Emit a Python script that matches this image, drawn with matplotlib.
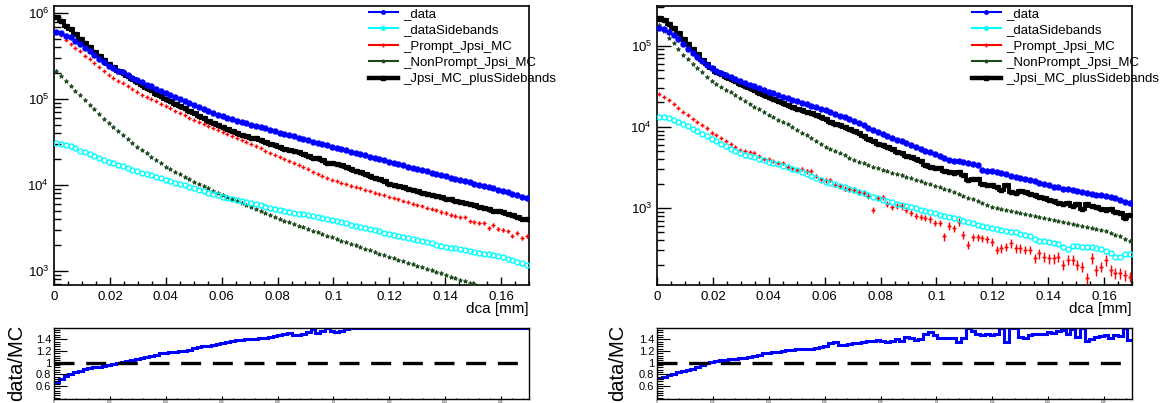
import numpy as np
import matplotlib
matplotlib.use("Agg")
import matplotlib.pyplot as plt
from matplotlib.lines import Line2D
from matplotlib.ticker import MultipleLocator, FixedLocator, LogLocator, NullFormatter, FuncFormatter

plt.rcParams["font.family"] = ["Liberation Sans", "DejaVu Sans"]

# 100 bins of dca from 0 to 0.17 mm
n_bins = 100
x_max = 0.17
edges = np.linspace(0, x_max, n_bins + 1)
centers = 0.5 * (edges[:-1] + edges[1:])

# values, stored as log10(counts)
left_data = [5.78, 5.77, 5.74, 5.72, 5.68, 5.64, 5.60, 5.56, 5.51, 5.47,
             5.43, 5.39, 5.36, 5.33, 5.31, 5.28, 5.25, 5.22, 5.20, 5.17,
             5.15, 5.12, 5.10, 5.07, 5.05, 5.02, 5.00, 4.98, 4.95, 4.93,
             4.91, 4.89, 4.86, 4.84, 4.82, 4.80, 4.78, 4.77, 4.75, 4.73,
             4.72, 4.70, 4.69, 4.67, 4.66, 4.64, 4.63, 4.61, 4.595, 4.58,
             4.565, 4.55, 4.535, 4.52, 4.505, 4.49, 4.475, 4.46, 4.445, 4.43,
             4.416, 4.401, 4.387, 4.372, 4.358, 4.343, 4.328, 4.314, 4.299, 4.285,
             4.27, 4.256, 4.242, 4.228, 4.213, 4.199, 4.185, 4.171, 4.157, 4.143,
             4.128, 4.114, 4.10, 4.086, 4.072, 4.058, 4.043, 4.029, 4.015, 4.001,
             3.987, 3.973, 3.958, 3.944, 3.93, 3.913, 3.896, 3.879, 3.862, 3.845]
left_sidebands = [4.485, 4.478, 4.466, 4.45, 4.43, 4.40, 4.378, 4.357, 4.335, 4.313,
                  4.292, 4.27, 4.252, 4.233, 4.215, 4.197, 4.178, 4.16, 4.143, 4.127,
                  4.11, 4.093, 4.077, 4.06, 4.043, 4.027, 4.01, 3.993, 3.977, 3.96,
                  3.943, 3.927, 3.91, 3.893, 3.877, 3.86, 3.848, 3.835, 3.823, 3.81,
                  3.798, 3.785, 3.773, 3.76, 3.748, 3.735, 3.723, 3.71, 3.699, 3.688,
                  3.677, 3.666, 3.655, 3.645, 3.634, 3.623, 3.612, 3.601, 3.59, 3.577,
                  3.563, 3.55, 3.537, 3.523, 3.51, 3.497, 3.483, 3.47, 3.457, 3.443,
                  3.43, 3.418, 3.405, 3.393, 3.38, 3.368, 3.355, 3.343, 3.33, 3.318,
                  3.305, 3.293, 3.28, 3.27, 3.26, 3.25, 3.24, 3.23, 3.22, 3.21,
                  3.20, 3.19, 3.18, 3.17, 3.16, 3.142, 3.124, 3.106, 3.088, 3.07]
left_prompt = [5.78, 5.75, 5.69, 5.645, 5.60, 5.555, 5.507, 5.462, 5.417, 5.372,
               5.327, 5.283, 5.25, 5.216, 5.182, 5.148, 5.114, 5.08, 5.053, 5.027,
               5.00, 4.973, 4.947, 4.92, 4.892, 4.864, 4.837, 4.809, 4.781, 4.753,
               4.73, 4.708, 4.686, 4.663, 4.64, 4.618, 4.594, 4.57, 4.546, 4.522,
               4.498, 4.474, 4.45, 4.425, 4.40, 4.376, 4.352, 4.327, 4.303, 4.278,
               4.254, 4.229, 4.205, 4.18, 4.156, 4.131, 4.106, 4.082, 4.057, 4.041,
               4.024, 4.008, 3.992, 3.976, 3.96, 3.943, 3.927, 3.911, 3.895, 3.878,
               3.862, 3.846, 3.83, 3.814, 3.798, 3.782, 3.766, 3.75, 3.734, 3.718,
               3.702, 3.686, 3.669, 3.653, 3.637, 3.62, 3.62, 3.575, 3.572, 3.555,
               3.56, 3.50, 3.53, 3.49, 3.474, 3.457, 3.41, 3.44, 3.38, 3.40]
left_nonprompt = [5.327, 5.27, 5.215, 5.155, 5.10, 5.045, 4.99, 4.935, 4.88, 4.825,
                  4.77, 4.72, 4.675, 4.628, 4.58, 4.535, 4.49, 4.445, 4.405, 4.367,
                  4.328, 4.29, 4.25, 4.212, 4.182, 4.153, 4.124, 4.095, 4.066, 4.037,
                  4.011, 3.985, 3.959, 3.933, 3.907, 3.882, 3.859, 3.836, 3.814, 3.791,
                  3.768, 3.746, 3.722, 3.697, 3.673, 3.648, 3.624, 3.60, 3.581, 3.562,
                  3.543, 3.524, 3.505, 3.485, 3.466, 3.447, 3.428, 3.408, 3.389, 3.37,
                  3.351, 3.332, 3.314, 3.295, 3.276, 3.257, 3.238, 3.22, 3.20, 3.182,
                  3.163, 3.145, 3.128, 3.11, 3.092, 3.074, 3.057, 3.039, 3.021, 3.003,
                  2.985, 2.968, 2.95, 2.932, 2.913, 2.895, 2.877, 2.858, 2.84, 2.823,
                  2.807, 2.79, 2.773, 2.757, 2.74, 2.722, 2.704, 2.686, 2.668, 2.65]
left_total = [5.951, 5.913, 5.854, 5.812, 5.756, 5.706, 5.653, 5.603, 5.546, 5.499,
              5.452, 5.405, 5.369, 5.33, 5.306, 5.269, 5.233, 5.195, 5.169, 5.131,
              5.103, 5.065, 5.036, 5.00, 4.978, 4.944, 4.921, 4.899, 4.864, 4.835,
              4.808, 4.783, 4.748, 4.723, 4.698, 4.673, 4.646, 4.632, 4.609, 4.587,
              4.574, 4.552, 4.541, 4.518, 4.505, 4.48, 4.466, 4.443, 4.422, 4.401,
              4.395, 4.383, 4.362, 4.335, 4.309, 4.311, 4.285, 4.259, 4.255, 4.245,
              4.226, 4.205, 4.185, 4.165, 4.145, 4.125, 4.105, 4.085, 4.065, 4.04,
              4.015, 4.00, 3.985, 3.97, 3.955, 3.94, 3.925, 3.91, 3.895, 3.88,
              3.87, 3.855, 3.84, 3.83, 3.815, 3.80, 3.79, 3.775, 3.76, 3.745,
              3.73, 3.715, 3.70, 3.69, 3.68, 3.66, 3.645, 3.63, 3.605, 3.60]

right_data = [5.214, 5.20, 5.17, 5.13, 5.08, 5.02, 4.96, 4.91, 4.86, 4.81,
              4.765, 4.725, 4.69, 4.665, 4.64, 4.615, 4.59, 4.565, 4.543, 4.521,
              4.499, 4.477, 4.455, 4.433, 4.413, 4.393, 4.373, 4.353, 4.333, 4.313,
              4.295, 4.277, 4.258, 4.24, 4.222, 4.203, 4.182, 4.16, 4.138, 4.116,
              4.094, 4.072, 4.045, 4.018, 3.991, 3.964, 3.937, 3.91, 3.888, 3.865,
              3.843, 3.82, 3.797, 3.775, 3.752, 3.73, 3.707, 3.685, 3.66, 3.64,
              3.615, 3.595, 3.585, 3.575, 3.565, 3.555, 3.545, 3.535, 3.47, 3.462,
              3.455, 3.44, 3.43, 3.415, 3.40, 3.385, 3.37, 3.355, 3.34, 3.33,
              3.31, 3.295, 3.28, 3.265, 3.255, 3.24, 3.23, 3.22, 3.21, 3.195,
              3.185, 3.175, 3.165, 3.155, 3.145, 3.14, 3.125, 3.10, 3.08, 3.06]
right_sidebands = [4.126, 4.12, 4.105, 4.085, 4.06, 4.035, 4.005, 3.975, 3.945, 3.915,
                   3.885, 3.85, 3.82, 3.79, 3.76, 3.73, 3.70, 3.675, 3.658, 3.641,
                   3.623, 3.606, 3.589, 3.571, 3.554, 3.537, 3.52, 3.503, 3.486, 3.469,
                   3.445, 3.42, 3.396, 3.372, 3.348, 3.325, 3.308, 3.291, 3.274, 3.257,
                   3.24, 3.223, 3.202, 3.182, 3.161, 3.141, 3.12, 3.10, 3.085, 3.07,
                   3.055, 3.04, 3.025, 3.011, 2.996, 2.981, 2.966, 2.951, 2.936, 2.92,
                   2.905, 2.89, 2.874, 2.859, 2.844, 2.828, 2.813, 2.797, 2.782, 2.767,
                   2.751, 2.741, 2.731, 2.72, 2.71, 2.70, 2.68, 2.665, 2.65, 2.62,
                   2.60, 2.59, 2.58, 2.575, 2.56, 2.52, 2.50, 2.53, 2.53, 2.525,
                   2.525, 2.52, 2.51, 2.49, 2.475, 2.44, 2.40, 2.395, 2.43, 2.435]
right_prompt = [4.40, 4.37, 4.33, 4.28, 4.23, 4.18, 4.14, 4.10, 4.06, 4.02,
                3.98, 3.93, 3.90, 3.86, 3.83, 3.79, 3.75, 3.72, 3.70, 3.69,
                3.68, 3.64, 3.61, 3.60, 3.58, 3.56, 3.55, 3.51, 3.49, 3.47,
                3.48, 3.45, 3.45, 3.40, 3.36, 3.34, 3.35, 3.28, 3.27, 3.24,
                3.23, 3.22, 3.20, 3.19, 3.15, 2.98, 3.12, 3.13, 3.05, 3.01,
                3.03, 3.02, 2.98, 2.94, 2.90, 2.89, 2.88, 2.86, 2.82, 2.82,
                2.65, 2.78, 2.75, 2.833, 2.669, 2.545, 2.64, 2.64, 2.628, 2.616,
                2.586, 2.484, 2.505, 2.525, 2.566, 2.505, 2.505, 2.484, 2.484, 2.382,
                2.443, 2.402, 2.382, 2.382, 2.402, 2.299, 2.361, 2.361, 2.299, 2.278,
                2.135, 2.382, 2.238, 2.278, 2.361, 2.238, 2.197, 2.197, 2.176, 2.155]
right_nonprompt = [5.255, 5.18, 5.10, 5.03, 4.96, 4.89, 4.83, 4.78, 4.72, 4.67,
                   4.62, 4.57, 4.53, 4.495, 4.46, 4.425, 4.39, 4.355, 4.32, 4.285,
                   4.25, 4.215, 4.18, 4.147, 4.118, 4.089, 4.06, 4.03, 3.997, 3.965,
                   3.93, 3.895, 3.86, 3.825, 3.79, 3.757, 3.73, 3.70, 3.675, 3.648,
                   3.62, 3.594, 3.573, 3.553, 3.532, 3.511, 3.49, 3.469, 3.452, 3.435,
                   3.418, 3.401, 3.384, 3.367, 3.349, 3.331, 3.313, 3.295, 3.277, 3.26,
                   3.238, 3.216, 3.194, 3.172, 3.15, 3.128, 3.106, 3.084, 3.062, 3.04,
                   3.018, 3.005, 2.992, 2.979, 2.966, 2.953, 2.94, 2.926, 2.913, 2.90,
                   2.887, 2.874, 2.861, 2.849, 2.837, 2.825, 2.813, 2.80, 2.787, 2.775,
                   2.762, 2.75, 2.737, 2.725, 2.712, 2.69, 2.67, 2.65, 2.62, 2.60]
right_total = [5.345, 5.319, 5.272, 5.222, 5.156, 5.086, 5.016, 4.956, 4.892, 4.828,
               4.769, 4.721, 4.677, 4.648, 4.619, 4.59, 4.561, 4.532, 4.506, 4.48,
               4.45, 4.42, 4.391, 4.365, 4.341, 4.317, 4.292, 4.27, 4.247, 4.223,
               4.205, 4.184, 4.165, 4.143, 4.118, 4.092, 4.058, 4.03, 4.024, 3.999,
               3.973, 3.948, 3.921, 3.888, 3.854, 3.824, 3.794, 3.773, 3.754, 3.725,
               3.694, 3.68, 3.636, 3.623, 3.609, 3.584, 3.531, 3.50, 3.493, 3.488,
               3.46, 3.443, 3.43, 3.441, 3.41, 3.351, 3.355, 3.359, 3.30, 3.289,
               3.288, 3.264, 3.226, 3.281, 3.196, 3.181, 3.209, 3.203, 3.173, 3.157,
               3.134, 3.119, 3.095, 3.086, 3.065, 3.047, 3.057, 3.024, 3.049, 2.994,
               3.048, 3.029, 3.007, 2.991, 2.978, 2.988, 2.955, 2.936, 2.879, 2.917]

# relative error bars of the MC points
left_prompt_err = [0.005] * 20 + [0.01] * 20 + [0.015] * 20 + [0.03] * 20 + [0.05] * 20
left_nonprompt_err = [0.01] * 50 + [0.03] * 50
right_prompt_err = ([0.02] * 10 + [0.03] * 10 + [0.04] * 10 + [0.06] * 10 + [0.08] * 10
                    + [0.09] * 10 + [0.11] * 10 + [0.12] * 10 + [0.14] * 10 + [0.15] * 10)
right_nonprompt_err = [0.01] * 50 + [0.03] * 50

labels = ["_data", "_dataSidebands", "_Prompt_Jpsi_MC", "_NonPrompt_Jpsi_MC",
          "_Jpsi_MC_plusSidebands"]
c_data = "#0000ff"
c_side = "#00ffff"
c_prompt = "#ff0000"
c_nonprompt = "#1d4a1d"

W, H = 1166, 403
fig = plt.figure(figsize=(W / 100, H / 100), dpi=100)


def px_box(x0, y0, x1, y1):
    return [x0 / W, 1 - y1 / H, (x1 - x0) / W, (y1 - y0) / H]


def fmt_x(v, pos):
    return "0" if abs(v) < 1e-9 else "%g" % v


def draw_panel(x0, x1, data, side, prompt, nonprompt, total, perr, nperr, ylim, ylab_x):
    ax = fig.add_axes(px_box(x0, 6, x1, 285))
    rax = fig.add_axes(px_box(x0, 328, x1, 399))

    data = 10 ** np.array(data)
    side = 10 ** np.array(side)
    prompt = 10 ** np.array(prompt)
    nonprompt = 10 ** np.array(nonprompt)
    total = 10 ** np.array(total)
    perr = np.array(perr) * prompt
    nperr = np.array(nperr) * nonprompt

    ax.set_yscale("log")
    ax.stairs(total, edges, baseline=None, color="black", lw=2.8, zorder=3)
    ax.plot(centers, total, "s", color="black", ms=3.0, zorder=3)
    ax.errorbar(centers, nonprompt, yerr=nperr, fmt="*", color=c_nonprompt, ms=3.2,
                mew=0.6, elinewidth=0.8, capsize=0, zorder=4)
    ax.errorbar(centers, prompt, yerr=perr, fmt="+", color=c_prompt, ms=3.5,
                mew=1.0, elinewidth=1.0, capsize=0, zorder=4)
    ax.plot(centers, side, "o", mfc="none", mec=c_side, mew=1.0, ms=3.6, zorder=5)
    ax.plot(centers, data, "o", color=c_data, ms=3.6, zorder=6)

    ax.set_xlim(0, x_max)
    ax.set_ylim(*ylim)
    ax.xaxis.set_major_locator(MultipleLocator(0.02))
    ax.xaxis.set_minor_locator(MultipleLocator(0.005))
    ax.xaxis.set_major_formatter(FuncFormatter(fmt_x))
    ax.yaxis.set_major_locator(LogLocator(base=10))
    ax.yaxis.set_minor_locator(LogLocator(base=10, subs=np.arange(2, 10)))
    ax.yaxis.set_minor_formatter(NullFormatter())
    ax.tick_params(axis="both", which="both", direction="in", top=False, right=False,
                   labelsize=9.5, width=1.0)
    ax.tick_params(axis="y", which="major", length=10)
    ax.tick_params(axis="y", which="minor", length=5)
    ax.tick_params(axis="x", which="major", length=6, pad=4)
    ax.tick_params(axis="x", which="minor", length=3)
    for s in ax.spines.values():
        s.set_linewidth(1.2)

    handles = [
        Line2D([], [], color=c_data, lw=1.5, marker="o", ms=2.5),
        Line2D([], [], color=c_side, lw=1.5, marker="o", ms=2.5),
        Line2D([], [], color=c_prompt, lw=1.5, marker="+", ms=2.5),
        Line2D([], [], color=c_nonprompt, lw=1.5, marker="*", ms=2.5),
        Line2D([], [], color="black", lw=3.2, marker="s", ms=3),
    ]
    ax.legend(handles, labels, loc="upper left", bbox_to_anchor=(0.663, 0.995),
              frameon=False, fontsize=9.5, handlelength=2.2, handletextpad=0.4,
              labelspacing=0.32, borderpad=0, borderaxespad=0)

    fig.text(x1 / W, 1 - 313 / H, "dca [mm]", ha="right", va="baseline", fontsize=11)

    # ratio panel, values above the frame are drawn on its top edge as ROOT does
    ratio = data / total
    ratio_shown = np.minimum(ratio, 1.59)
    rax.stairs(ratio_shown, edges, baseline=None, color=c_data, lw=2.2)
    rax.axhline(1.0, color="black", lw=2.4, dashes=(6, 3.5))
    rax.set_xlim(0, x_max)
    rax.set_ylim(0.38, 1.595)
    rax.yaxis.set_major_locator(FixedLocator([0.6, 0.8, 1.0, 1.2, 1.4]))
    rax.yaxis.set_minor_locator(MultipleLocator(0.04))
    rax.yaxis.set_major_formatter(FuncFormatter(lambda v, p: "%g" % v))
    rax.xaxis.set_major_locator(MultipleLocator(0.02))
    rax.xaxis.set_minor_locator(MultipleLocator(0.004))
    rax.xaxis.set_major_formatter(FuncFormatter(fmt_x))
    rax.tick_params(axis="both", which="both", direction="in", top=False, right=False,
                    width=0.8)
    rax.tick_params(axis="y", which="major", length=9, labelsize=8, pad=2)
    rax.tick_params(axis="y", which="minor", length=4.5)
    rax.tick_params(axis="x", which="major", length=2, labelsize=2, pad=1)
    rax.tick_params(axis="x", which="minor", length=1)
    for s in rax.spines.values():
        s.set_linewidth(1.0)
    fig.text(ylab_x / W, 1 - 363 / H, "data/MC", rotation=90, ha="center", va="center",
             fontsize=14.5)


draw_panel(54, 529, left_data, left_sidebands, left_prompt, left_nonprompt, left_total,
           left_prompt_err, left_nonprompt_err, (681, 1.216e6), 17)
draw_panel(657, 1132, right_data, right_sidebands, right_prompt, right_nonprompt, right_total,
           right_prompt_err, right_nonprompt_err, (112.7, 3.08e5), 618)

fig.savefig("out.png", dpi=100)
